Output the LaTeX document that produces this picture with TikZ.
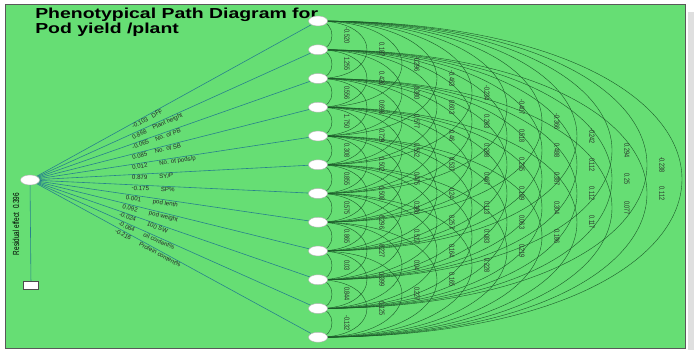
\documentclass[tikz,border=0pt]{standalone}
\usepackage{fontspec}
\setmainfont{Liberation Sans}
\usepackage{graphicx}
\usetikzlibrary{shapes.geometric,calc}
\pgfdeclarelayer{bg}\pgfdeclarelayer{mid}\pgfsetlayers{bg,mid,main}
\definecolor{boxgreen}{RGB}{102,222,116}
\definecolor{arcgreen}{RGB}{28,90,42}
\definecolor{fanteal}{RGB}{40,130,140}
\begin{document}
\begin{tikzpicture}[x=1pt,y=-1pt,
  dot/.style={ellipse,draw=gray!60,fill=white,line width=0.4pt,minimum width=19pt,minimum height=10pt,inner sep=0pt},
  arcline/.style={draw=arcgreen,line width=0.4pt},
  fan/.style={draw=fanteal,line width=0.6pt},
  vlab/.style={font=\fontsize{5.4}{6}\selectfont,text=black!85,rotate=-90,inner sep=0pt},
  flab/.style={font=\fontsize{6.1}{7}\selectfont,sloped,anchor=north west,inner sep=0.6pt,text=black!85},
]
\useasboundingbox (0,0) rectangle (694,350);
\begin{pgfonlayer}{bg}
\fill[gray!25] (688,12) rectangle (694,350);
\draw[fill=boxgreen,draw=gray!70!black,line width=0.8pt] (5,4) rectangle (685,348);
\end{pgfonlayer}

\node[anchor=north west,inner sep=0pt,align=left,font=\fontsize{14.5}{12.5}\selectfont\bfseries,xscale=1.34] (title) at (35,8) {Phenotypical Path Diagram for\\Pod yield /plant};

\foreach \i in {0,...,11} \node[dot] (n\i) at (318,{21+28.75*\i}) {};
\node[dot] (L) at (30,180) {};
\node[draw=gray!60!black,fill=white,minimum width=15pt,minimum height=8pt,inner sep=0pt] (R) at (31,285) {};
\node[rotate=90,inner sep=0pt,font=\fontsize{6.4}{7}\selectfont] (res) at (16,224) {\scalebox{1}[1.38]{Residual effect\hspace{4pt}0.396}};

\begin{pgfonlayer}{mid}
\foreach \i in {0,...,10}{
  \pgfmathtruncatemacro\js{\i+1}
  \foreach \j in {\js,...,11}{
    \pgfmathsetmacro\c{4/3*(35*(\j-\i)-21)}
    \draw[arcline] (n\i.center) .. controls ($(n\i.center)+(\c,0)$) and ($(n\j.center)+(\c,0)$) .. (n\j.center);
  }
}
\draw[fan] (L) -- (R);
\draw[fan] (L) -- (n0) node[flab,pos=0.34] {-0.103\hspace{5pt}DFF};
\draw[fan] (L) -- (n1) node[flab,pos=0.34] {0.868\hspace{7pt}Plant height};
\draw[fan] (L) -- (n2) node[flab,pos=0.34] {-0.065\hspace{7pt}No. of PB};
\draw[fan] (L) -- (n3) node[flab,pos=0.34] {0.085\hspace{8pt}No. of SB};
\draw[fan] (L) -- (n4) node[flab,pos=0.34] {0.012\hspace{12pt}No. of pods/p};
\draw[fan] (L) -- (n5) node[flab,pos=0.34] {0.879\hspace{12pt}SY/P};
\draw[fan] (L) -- (n6) node[flab,pos=0.34] {-0.175\hspace{12pt}SP\%};
\draw[fan] (L) -- (n7) node[flab,pos=0.32] {0.001\hspace{12pt}pod lenth};
\draw[fan] (L) -- (n8) node[flab,pos=0.31] {0.092\hspace{12pt}pod weight};
\draw[fan] (L) -- (n9) node[flab,pos=0.30] {-0.024\hspace{12pt}100 SW};
\draw[fan] (L) -- (n10) node[flab,pos=0.30] {-0.064\hspace{10pt}oil content\%};
\draw[fan] (L) -- (n11) node[flab,pos=0.29] {-0.216\hspace{10pt}Protein content\%};
\end{pgfonlayer}

\foreach \i/\j/\v in {0/1/-0.520,1/2/1.255,2/3/0.556,3/4/1.750,4/5/0.308,5/6/0.855,6/7/0.575,7/8/0.865,8/9/0.03,9/10/0.844,10/11/-0.132,
0/2/0.187,1/3/0.426,2/4/0.698,3/5/0.729,4/6/0.502,5/7/0.508,6/8/0.296,7/9/0.227,8/10/0.399,9/11/0.125,
0/3/-0.296,1/4/0.380,2/5/0.577,3/6/0.552,4/7/0.475,5/8/0.386,6/9/0.517,7/10/0.04,8/11/0.227,
0/4/-0.463,1/5/0.603,2/6/0.46,3/7/0.537,4/8/0.24,5/9/0.257,6/10/0.164,7/11/0.165,
0/5/-0.234,1/6/0.263,2/7/0.288,3/8/0.467,4/9/0.113,5/10/0.083,6/11/0.228,
0/6/-0.407,1/7/0.518,2/8/0.235,3/9/0.189,4/10/0.063,5/11/0.219,
0/7/-0.366,1/8/0.488,2/9/0.387,3/10/0.304,4/11/0.186,
0/8/-0.242,1/9/0.112,2/10/0.112,3/11/0.117,
0/9/0.294,1/10/0.25,2/11/0.077,
0/10/-0.238,1/11/0.112}{
  \pgfmathsetmacro\dx{35*(\j-\i)-6}
  \node[vlab] (l\i-\j) at ($($(n\i.center)!0.5!(n\j.center)$)+(\dx,0)$) {\scalebox{1}[1.38]{\v}};
}
\end{tikzpicture}
\end{document}
